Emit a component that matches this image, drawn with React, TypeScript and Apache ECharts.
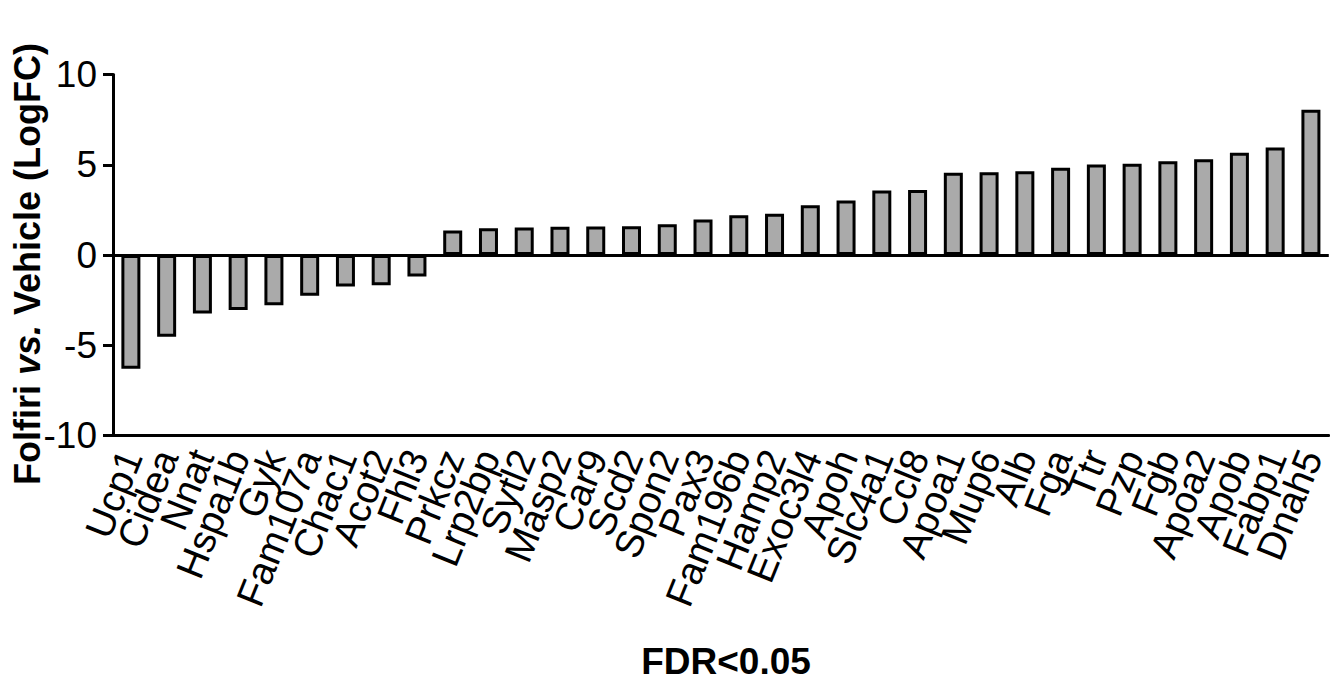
import React, { useEffect, useRef } from "react";
import * as echarts from "echarts";

const genes = [
  "Ucp1", "Cidea", "Nnat", "Hspa1b", "Gyk", "Fam107a", "Chac1", "Acot2", "Fhl3",
  "Prkcz", "Lrp2bp", "Sytl2", "Masp2", "Car9", "Scd2", "Spon2", "Pax3", "Fam196b",
  "Hamp2", "Exoc3l4", "Apoh", "Slc4a1", "Ccl8", "Apoa1", "Mup6", "Alb", "Fga",
  "Ttr", "Pzp", "Fgb", "Apoa2", "Apob", "Fabp1", "Dnah5",
];

const logFC = [
  -6.3, -4.53, -3.24, -3.05, -2.78, -2.26, -1.74, -1.67, -1.19,
  1.36, 1.48, 1.52, 1.56, 1.58, 1.59, 1.7, 1.96, 2.2,
  2.28, 2.76, 3.02, 3.57, 3.6, 4.55, 4.58, 4.64, 4.84,
  5.01, 5.05, 5.19, 5.3, 5.67, 5.95, 8.05,
];

const yTicks = { min: -10, max: 10, interval: 5 };
const yTitle = "Folfiri vs. Vehicle (LogFC)";
const xTitle = "FDR<0.05";

const FONT = "'Liberation Sans', Arial, Helvetica, sans-serif";

export default function App() {
  const ref = useRef<HTMLDivElement>(null);
  useEffect(() => {
    if (!ref.current) return;
    const chart = echarts.init(ref.current, null, { renderer: "svg" });
    chart.setOption({
      animation: false,
      backgroundColor: "#ffffff",
      grid: { left: 113, right: -7, top: 74.5, height: 361, containLabel: false },
      xAxis: {
        type: "category",
        data: genes,
        position: "bottom",
        axisLine: { onZero: false, lineStyle: { color: "#000", width: 3 } },
        axisTick: { alignWithLabel: true, length: 10, lineStyle: { color: "#000", width: 3 } },
        axisLabel: {
          rotate: 68,
          margin: 16,
          fontSize: 39,
          fontFamily: FONT,
          color: "#000",
          interval: 0,
        },
      },
      yAxis: {
        type: "value",
        min: yTicks.min,
        max: yTicks.max,
        interval: yTicks.interval,
        splitLine: { show: false },
        axisLine: { show: true, lineStyle: { color: "#000", width: 3 } },
        axisTick: { show: true, length: 10, lineStyle: { color: "#000", width: 3 } },
        axisLabel: { margin: 16, fontSize: 37, fontFamily: FONT, color: "#000" },
      },
      series: [
        {
          type: "bar",
          data: logFC,
          barWidth: 19,
          itemStyle: { color: "#aaaaaa", borderColor: "#000", borderWidth: 3 },
          markLine: {
            silent: true,
            symbol: "none",
            label: { show: false },
            lineStyle: { color: "#000", width: 3, type: "solid" },
            data: [{ yAxis: 0 }],
          },
        },
      ],
      graphic: [
        {
          type: "text",
          x: 27,
          y: 264,
          rotation: Math.PI / 2,
          style: {
            text: "{b|Folfiri }{i|vs.}{b| Vehicle (LogFC)}",
            rich: {
              b: { fontSize: 36, fontWeight: "bold", fontFamily: FONT, fill: "#000" },
              i: { fontSize: 36, fontWeight: "bold", fontStyle: "italic", fontFamily: FONT, fill: "#000" },
            },
            align: "center",
            verticalAlign: "middle",
          },
        },
        {
          type: "text",
          x: 726,
          y: 661,
          style: {
            text: xTitle,
            fontSize: 37,
            fontWeight: "bold",
            fontFamily: FONT,
            fill: "#000",
            align: "center",
            verticalAlign: "middle",
          },
        },
      ],
    });
    return () => chart.dispose();
  }, []);
  return (
    <div
      ref={ref}
      style={{ position: "absolute", left: 0, top: 0, width: 1330, height: 681 }}
      data-ytitle={yTitle}
    />
  );
}
